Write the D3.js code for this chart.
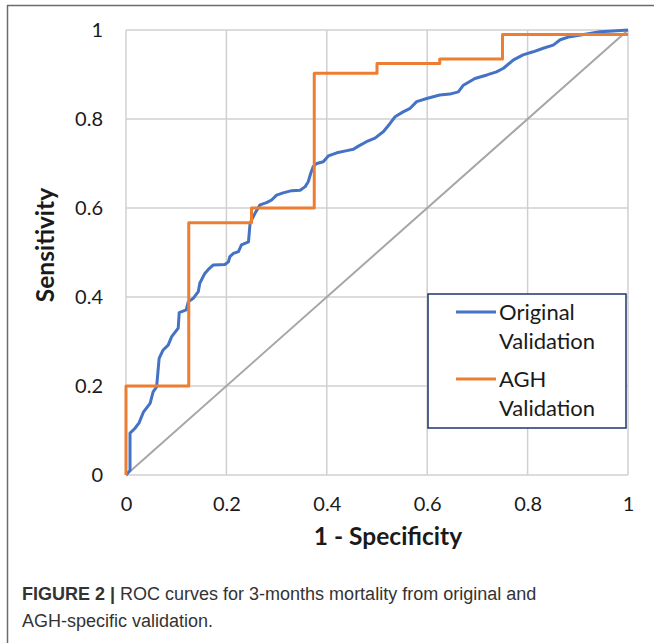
<!DOCTYPE html>
<html><head><meta charset="utf-8">
<script src="https://cdn.jsdelivr.net/npm/d3@7"></script>
<style>body{margin:0;background:#fff}svg{display:block}</style>
</head><body>
<script>
const xTicks = [0, 0.2, 0.4, 0.6, 0.8, 1];
const yTicks = [0, 0.2, 0.4, 0.6, 0.8, 1];
const tickLabels = ["0", "0.2", "0.4", "0.6", "0.8", "1"];
const seriesNames = ["Original Validation", "AGH Validation"];
const origFpr = [0,0.008,0.008,0.018,0.026,0.035,0.048,0.054,0.061,0.066,0.074,0.084,0.091,0.104,0.106,0.12,0.124,0.134,0.144,0.147,0.157,0.164,0.174,0.197,0.204,0.207,0.214,0.224,0.230,0.244,0.247,0.25,0.257,0.267,0.28,0.29,0.30,0.313,0.33,0.347,0.357,0.363,0.368,0.373,0.38,0.393,0.403,0.42,0.44,0.453,0.463,0.479,0.496,0.513,0.526,0.536,0.552,0.566,0.579,0.599,0.625,0.645,0.662,0.672,0.695,0.719,0.738,0.752,0.772,0.791,0.811,0.831,0.851,0.865,0.884,0.918,0.944,0.971,1];
const origTpr = [0,0.01,0.094,0.105,0.117,0.142,0.161,0.187,0.198,0.262,0.281,0.292,0.311,0.33,0.365,0.371,0.389,0.397,0.412,0.431,0.453,0.462,0.472,0.473,0.479,0.491,0.498,0.502,0.517,0.524,0.564,0.573,0.588,0.607,0.612,0.618,0.629,0.634,0.639,0.640,0.648,0.659,0.678,0.693,0.70,0.704,0.717,0.724,0.729,0.732,0.739,0.749,0.757,0.772,0.790,0.805,0.816,0.824,0.839,0.846,0.854,0.856,0.861,0.876,0.891,0.899,0.906,0.914,0.933,0.944,0.951,0.959,0.966,0.978,0.985,0.991,0.996,0.998,1];
const aghFpr = [0,0,0.125,0.125,0.25,0.25,0.375,0.375,0.5,0.5,0.625,0.625,0.75,0.75,1];
const aghTpr = [0,0.2,0.2,0.567,0.567,0.6,0.6,0.903,0.903,0.925,0.925,0.935,0.935,0.99,0.99];
const refLine = [0, 1];
const captionBold = "FIGURE 2 |";
const captionLine1 = " ROC curves for 3-months mortality from original and";
const captionLine2 = "AGH-specific validation.";

const W = 654, H = 643;
const svg = d3.select("body").append("svg").attr("width", W).attr("height", H);

// outer frame (top and left)
svg.append("line").attr("x1", 7).attr("x2", W).attr("y1", 5.5).attr("y2", 5.5).attr("stroke", "#6b6b6b").attr("stroke-width", 1.5);
svg.append("line").attr("x1", 7.5).attr("x2", 7.5).attr("y1", 5).attr("y2", H).attr("stroke", "#6b6b6b").attr("stroke-width", 1.5);

const x = d3.scaleLinear().domain([0, 1]).range([126, 628]);
const y = d3.scaleLinear().domain([0, 1]).range([475, 30]);

const tickFont = "Lato, 'Open Sans', sans-serif";

// gridlines
const grid = svg.append("g");
grid.selectAll("line.v").data(xTicks).join("line")
  .attr("x1", d => x(d)).attr("x2", d => x(d)).attr("y1", y(0)).attr("y2", y(1))
  .attr("stroke", "#d0d0d0").attr("stroke-width", 1.5);
grid.selectAll("line.h").data(yTicks).join("line")
  .attr("x1", x(0)).attr("x2", x(1)).attr("y1", d => y(d)).attr("y2", d => y(d))
  .attr("stroke", "#d0d0d0").attr("stroke-width", 1.5);

// axes (labels only)
const xAxis = d3.axisBottom(x).tickValues(xTicks).tickFormat((d, i) => tickLabels[i]).tickSize(0).tickPadding(22);
const gx = svg.append("g").attr("transform", `translate(0,${y(0)})`).call(xAxis);
gx.select(".domain").remove();
gx.selectAll("text").attr("font-family", tickFont).attr("font-size", 20).attr("fill", "#1a1a1a");

const yAxis = d3.axisLeft(y).tickValues(yTicks).tickFormat((d, i) => tickLabels[i]).tickSize(0).tickPadding(23);
const gy = svg.append("g").attr("transform", `translate(${x(0)},0)`).call(yAxis);
gy.select(".domain").remove();
gy.selectAll("text").attr("font-family", tickFont).attr("font-size", 20).attr("fill", "#1a1a1a");

// reference diagonal
svg.append("line").attr("x1", x(refLine[0])).attr("y1", y(refLine[0])).attr("x2", x(refLine[1])).attr("y2", y(refLine[1]))
  .attr("stroke", "#a6a6a6").attr("stroke-width", 2);

const line = d3.line().x(d => x(d[0])).y(d => y(d[1]));
const orig = origFpr.map((v, i) => [v, origTpr[i]]);
const agh = aghFpr.map((v, i) => [v, aghTpr[i]]);

svg.append("path").datum(orig).attr("d", line).attr("fill", "none").attr("stroke", "#4472C4").attr("stroke-width", 3).attr("stroke-linejoin", "round");
svg.append("path").datum(agh).attr("d", line).attr("fill", "none").attr("stroke", "#ED7D31").attr("stroke-width", 3).attr("stroke-linejoin", "round");

// axis titles
svg.append("text").attr("x", 388).attr("y", 545).attr("text-anchor", "middle")
  .attr("font-family", tickFont).attr("font-weight", "bold").attr("font-size", 24.5).attr("fill", "#1a1a1a").text("1 - Specificity");
svg.append("text").attr("transform", "translate(54,245) rotate(-90)").attr("text-anchor", "middle")
  .attr("font-family", tickFont).attr("font-weight", "bold").attr("font-size", 24.5).attr("fill", "#1a1a1a").text("Sensitivity");

// legend
const lg = svg.append("g");
lg.append("rect").attr("x", 428).attr("y", 294).attr("width", 198).attr("height", 134)
  .attr("fill", "#fff").attr("stroke", "#1f3470").attr("stroke-width", 1.5);
const legendColors = ["#4472C4", "#ED7D31"];
const legendRows = [["Original", "Validation"], ["AGH", "Validation"]];
const legendY = [312, 379];
seriesNames.forEach((name, i) => {
  lg.append("line").attr("x1", 456).attr("x2", 496).attr("y1", legendY[i]).attr("y2", legendY[i])
    .attr("stroke", legendColors[i]).attr("stroke-width", 3);
  const t = lg.append("text").attr("font-family", tickFont).attr("font-size", 22).attr("fill", "#1a1a1a");
  legendRows[i].forEach((w, j) => {
    t.append("tspan").attr("x", 499).attr("y", legendY[i] + 8 + j * 28.5).text(w);
  });
});

// caption
const cap = svg.append("g").attr("font-family", "'Liberation Sans', Arial, sans-serif").attr("font-size", 18).attr("fill", "#333");
const c1 = cap.append("text").attr("x", 22).attr("y", 600);
c1.append("tspan").attr("font-weight", "bold").text(captionBold);
c1.append("tspan").text(captionLine1);
cap.append("text").attr("x", 22).attr("y", 627).text(captionLine2);
</script>
</body></html>
